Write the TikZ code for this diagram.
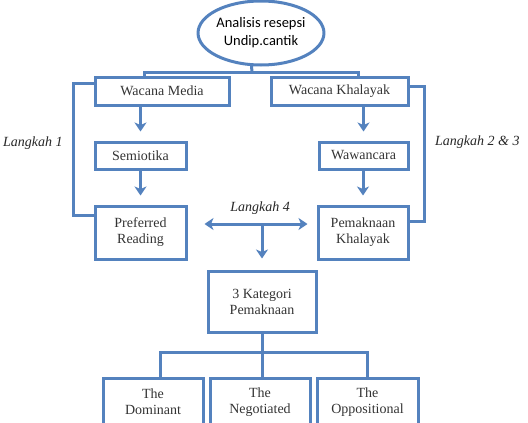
\documentclass[tikz,border=0pt]{standalone}
\usepackage{fontspec}
\setmainfont{Liberation Serif}
\newfontfamily\calfont{Carlito}
\usetikzlibrary{arrows.meta,shapes.geometric}
\definecolor{bl}{RGB}{84,130,190}
\tikzset{
  line/.style={draw=bl,line width=3pt},
  arr/.style={line,-{Stealth[length=9pt,width=12pt,inset=2.5pt]},shorten >=9pt},
  dbl/.style={line,{Stealth[length=9pt,width=12pt,inset=2.5pt]}-{Stealth[length=9pt,width=12pt,inset=2.5pt]}},
  box/.style={line,rectangle,align=center,inner sep=0pt,font=\fontsize{14}{16}\selectfont,text=black!80},
  lbl/.style={font=\fontsize{14}{16}\selectfont\itshape,text=black!85,inner sep=0pt},
}
\begin{document}
\begin{tikzpicture}[x=1pt,y=-1pt]
\useasboundingbox (0,0) rectangle (528,423);
\clip (0,0) rectangle (528,423);
\node[line,ellipse,minimum width=98pt,minimum height=64pt,inner sep=0pt,align=center,
      font=\calfont\fontsize{14.5}{18}\selectfont] (E) at (261,33) {Analisis resepsi\\Undip.cantik};
\node[box,minimum width=134pt,minimum height=28pt] (WM) at (162,91) {Wacana Media};
\node[box,minimum width=137pt,minimum height=28pt] (WK) at (339.5,91) {Wacana Khalayak};
\node[box,minimum width=91pt,minimum height=27pt] (S) at (140.5,155.5) {Semiotika};
\node[box,minimum width=89pt,minimum height=27pt] (W) at (363.5,155.5) {Wawancara};
\node[box,minimum width=91pt,minimum height=53pt] (PR) at (140.5,232.5) {Preferred\\Reading};
\node[box,minimum width=90pt,minimum height=53pt] (PK) at (363,232.5) {Pemaknaan\\Khalayak};
\node[box,minimum width=108pt,minimum height=61pt] (KP) at (262,301.5) {3 Kategori\\Pemaknaan};
\node[box,minimum width=100pt,minimum height=48pt] (D) at (153,402) {The\\Dominant};
\node[box,minimum width=100pt,minimum height=48pt] (N) at (260,402) {The\\Negotiated};
\node[box,minimum width=101pt,minimum height=48pt] (O) at (367.5,402) {The\\Oppositional};
\node[lbl,anchor=west] (L1) at (3,143) {Langkah 1};
\node[lbl,anchor=west] (L23) at (435,142) {Langkah 2 \& 3};
\node[lbl] (L4) at (260,208) {Langkah 4};
% top connectors
\coordinate (J) at (252,72);
\draw[line] (E.254) -- (J);
\draw[line] ([xshift=-18pt]WM.north) |- (J) -| ([xshift=18.5pt]WK.north);
% arrows
\draw[arr] (S.north |- WM.south) -- (S.north);
\draw[arr] (PR.north |- S.south) -- (PR.north);
\draw[arr] (W.north |- WK.south) -- (W.north);
\draw[arr] (PK.north |- W.south) -- (PK.north);
% brackets
\draw[line] ([yshift=-8pt]WM.north west) -- ++(-20,0) |- ([yshift=-11pt]PR.north west);
\draw[line] ([yshift=-11pt]WK.north east) -- ++(15,0) |- ([yshift=-17pt]PK.north east);
% langkah 4
\coordinate (M) at (262,224);
\draw[dbl] ([xshift=17pt,yshift=8.5pt]PR.east) -- ([xshift=-9pt,yshift=8.5pt]PK.west);
\draw[arr,shorten >=11pt] (M) -- (KP.north);
% tree
\draw[line] (KP.south) -- ++(0,19) coordinate (B);
\draw[line] ([xshift=7pt]D.north) |- (B) -| (O.north);
\draw[line] (B) -- (N.north -| B);
\end{tikzpicture}
\end{document}
